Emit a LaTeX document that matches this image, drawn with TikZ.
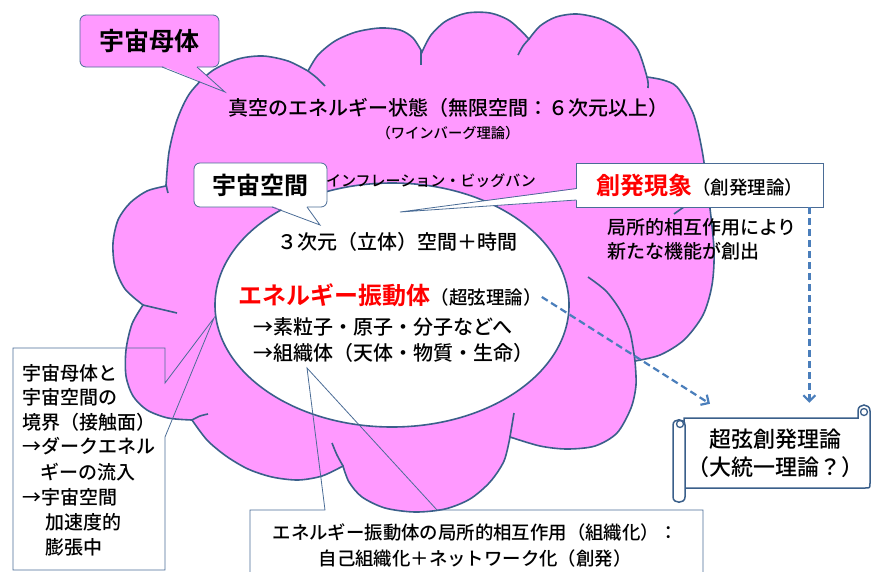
\documentclass[tikz,border=0pt]{standalone}
\usepackage{fontspec}
\setmainfont{Noto Sans CJK JP}[UprightFont={* Medium}, BoldFont={* Bold}]
\usepackage{xcolor}
\usetikzlibrary{arrows.meta, positioning, calc}

\definecolor{cloudpink}{HTML}{FF99FF}
\definecolor{cloudline}{HTML}{3A5F8A}
\definecolor{boxline}{HTML}{4A6C96}
\definecolor{dashblue}{HTML}{4A7EBB}

\tikzset{
  cloudedge/.style={draw=cloudline, line width=1.6pt},
  boxedge/.style={draw=boxline, line width=0.8pt},
  callout/.style={draw=boxline, line width=0.8pt, rounded corners=6pt},
  txt/.style={inner sep=0pt, font=\fontsize{#1}{#1}\selectfont},
  dasharrow/.style={dashblue, line width=2.2pt, dash pattern=on 7pt off 4pt,
    -{Straight Barb[length=6pt,width=12pt]}},
}

\begin{document}
\begin{tikzpicture}[x=1pt, y=-1pt]
\useasboundingbox (0,0) rectangle (872,571);

% Cloud
\filldraw[fill=cloudpink, cloudedge]
  plot[smooth] coordinates {(166,186) (169,152) (177,120) (190,93) (212,71) (238,59) (263,56) (288,61) (308,71)}
  -- plot[smooth] coordinates {(308,71) (318,55) (335,41) (356,32) (380,28) (400,30) (413,38) (422,52)}
  -- plot[smooth] coordinates {(422,52) (431,35) (446,21) (467,13) (490,13) (510,21) (529,39)}
  -- plot[smooth] coordinates {(529,39) (540,26) (556,17) (577,14) (601,19) (622,31) (638,50) (647,77)}
  -- plot[smooth] coordinates {(647,77) (663,80) (677,87) (693,113) (702,150) (709,200) (714,250) (712,285) (703,315) (684,340) (660,355) (635,361)}
  -- plot[smooth] coordinates {(635,361) (636,385) (631,408) (617,433) (595,446) (567,449) (540,446) (510,437)}
  -- plot[smooth] coordinates {(510,437) (504,461) (490,482) (470,499) (445,509) (415,512) (385,508) (362,497) (349,482) (343,466)}
  -- plot[smooth] coordinates {(343,466) (322,476) (298,480) (272,477) (248,469) (226,456) (207,440) (192,420)}
  -- plot[smooth] coordinates {(192,420) (168,418) (147,410) (133,396) (126,376) (126,350) (132,324) (143,305)}
  -- plot[smooth] coordinates {(143,305) (125,289) (115,267) (113,243) (118,220) (130,203) (147,191) (166,186)}
  -- cycle;
% inner arcs
\draw[cloudedge] plot[smooth] coordinates {(308,71) (317,78) (325,86)};
\draw[cloudedge] plot[smooth] coordinates {(421,50) (421,58) (421,65)};
\draw[cloudedge] plot[smooth] coordinates {(529,39) (523,46) (518,55)};
\draw[cloudedge] plot[smooth] coordinates {(647,77) (648,82) (648,88)};
\draw[cloudedge] plot[smooth] coordinates {(674,214) (681,209) (690,203)};
\draw[cloudedge] plot[smooth] coordinates {(588,277) (606,291) (620,310) (630,332) (635,361)};
\draw[cloudedge] plot[smooth] coordinates {(510,437) (512,425) (514,413)};
\draw[cloudedge] plot[smooth] coordinates {(343,466) (337,455) (332,443)};
\draw[cloudedge] plot[smooth] coordinates {(192,420) (200,416) (208,414)};
\draw[cloudedge] plot[smooth] coordinates {(143,305) (160,309) (177,313)};
\draw[cloudedge] plot[smooth] coordinates {(166,184) (167,189) (168,193)};

% Universe (ellipse)
\filldraw[fill=white, cloudedge] (392,305) ellipse [x radius=177pt, y radius=122pt];

% Callout: mother body
\node[callout, fill=cloudpink, minimum width=139pt, minimum height=52pt,
  font=\fontsize{25}{25}\selectfont\bfseries] (bokai) at (149.5,41) {宇宙母体};
\fill[cloudpink] (162.5,66) -- (225,92) -- (196.5,66) -- cycle;
\draw[boxedge] (162,67) -- (225,92) -- (197,67);

% Callout: space
\node[callout, fill=white, minimum width=133pt, minimum height=44pt,
  font=\fontsize{24}{24}\selectfont\bfseries] (kukan) at (260.5,185) {宇宙空間};
\fill[white] (272.5,206) -- (320,225) -- (306.5,206) -- cycle;
\draw[boxedge] (272,207) -- (320,225) -- (307,207);

% Callout: emergence
\node[boxedge, fill=white, minimum width=247pt, minimum height=44pt, inner sep=0pt] (hassei) at (699.5,185)
  {\textcolor{red}{\fontsize{24}{24}\selectfont\bfseries 創発現象}\fontsize{18.5}{18.5}\selectfont（創発理論）};
\fill[white] (577,189) -- (400,212) -- (577,200) -- cycle;
\draw[boxedge] (576.4,188.5) -- (400,212) -- (576.4,200);

% Texts in the cloud
\node[txt=20] (shinku) at (448,108) {真空のエネルギー状態（無限空間：６次元以上）};
\node[txt=14.3] (wein) at (448,133) {（ワインバーグ理論）};
\node[txt=15] (inflation) at (431,181) {インフレーション・ビッグバン};
\node[txt=20, anchor=west] (jigen) at (277,242) {３次元（立体）空間＋時間};
\node[inner sep=0pt, anchor=base west, text=red, font=\fontsize{24}{24}\selectfont\bfseries] (shindo) at (238,304) {エネルギー振動体};
\node[txt=18.5, anchor=base west] (chogen) at (shindo.base east) {（超弦理論）};
\node[txt=20, anchor=west] (soryushi) at (253,327) {→素粒子・原子・分子などへ};
\node[txt=20, anchor=west] (soshiki) at (253,353) {→組織体（天体・物質・生命）};
\node[txt=19, anchor=west] (kyosho1) at (607,227) {局所的相互作用により};
\node[txt=19, anchor=west] (kyosho2) at (607,251) {新たな機能が創出};

% Left box (boundary)
\draw[boxedge] (165,383) -- (214,318) -- (165,437) -- (165,570) -- (13,570) -- (13,348) -- (165,348) -- cycle;
\foreach \n/\x/\y/\s in {1/22/373/宇宙母体と, 2/22/397/宇宙空間の, 3/22/422/境界（接触面）,
    4/22/446/→ダークエネル, 5/40/472/ギーの流入, 6/22/497/→宇宙空間, 7/45/522/加速度的, 8/45/547/膨張中}
  \node[txt=19, anchor=west] (kyokai\n) at (\x,\y) {\s};

% Bottom box (interaction)
\draw[boxedge] (250,575) -- (250,510) -- (325,510) -- (307,368) -- (437,510) -- (703,510) -- (703,575);
\node[txt=18.4] (sogo1) at (475,532) {エネルギー振動体の局所的相互作用（組織化）：};
\node[txt=18.4] (sogo2) at (475,558) {自己組織化＋ネットワーク化（創発）};

% Scroll
\filldraw[fill=white, draw=cloudline, line width=1.5pt] (684,418) -- (858,418) -- (858,411)
  .. controls (858,403) and (870,403) .. (870,411) -- (870,483) .. controls (870,488) .. (865,488) -- (684,488) -- cycle;
\filldraw[fill=white, draw=cloudline, line width=1.5pt] (673,425) -- (673,497)
  .. controls (673,504) and (685,504) .. (685,497) -- (685,425) .. controls (685,418) and (673,418) .. (673,425) -- cycle;
\draw[cloudline, line width=1.3pt] (680,424) circle (3.5pt);
\draw[cloudline, line width=1.3pt] (864,412) circle (3.5pt);
\node[align=center, inner sep=0pt, font=\fontsize{22}{28}\selectfont, minimum width=185pt, minimum height=70pt] (scroll) at (775,453)
  {超弦創発理論\\（大統一理論？）};

% Dashed arrows
\coordinate (ha) at ([xshift=-14pt]hassei.south east);
\draw[dasharrow] (ha) -- ($(ha |- scroll.north)+(0,-15)$);
\draw[dasharrow] (chogen.east) -- ($(scroll.north)+(-65,-14)$);
\end{tikzpicture}
\end{document}
